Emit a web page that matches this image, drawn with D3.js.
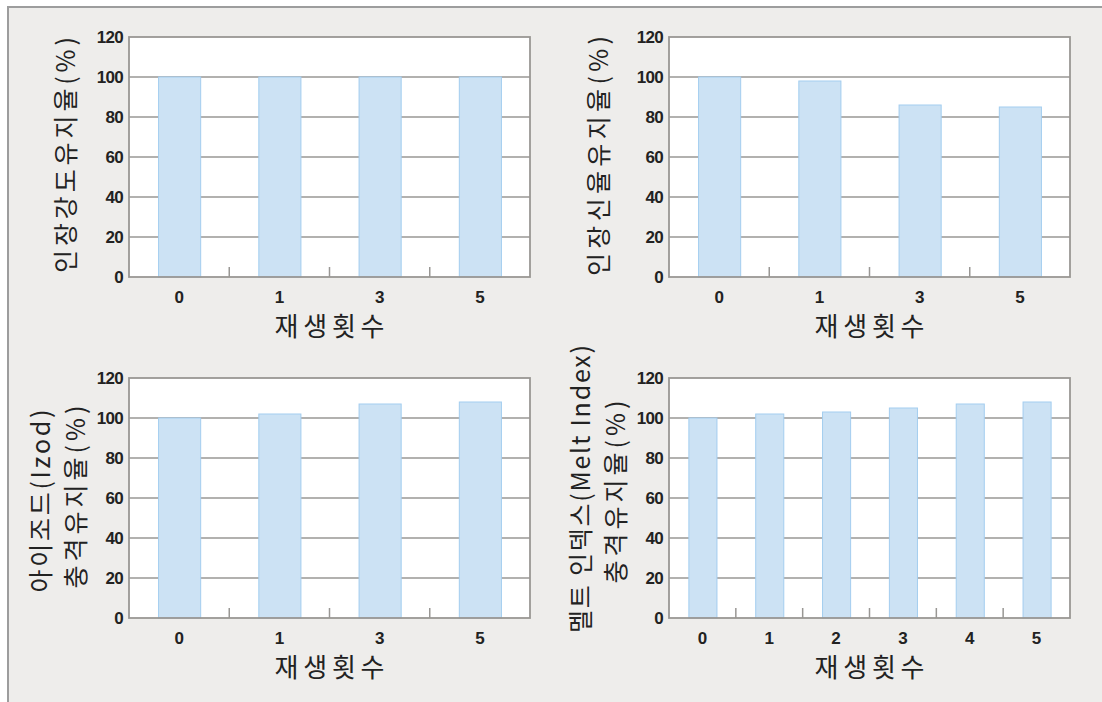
<!DOCTYPE html>
<html><head><meta charset="utf-8">
<script src="https://cdn.jsdelivr.net/npm/d3@7"></script>
<style>
html,body{margin:0;padding:0;background:#fff;}
svg{display:block;}
</style></head>
<body>
<script>
// ---- data ----
const cats4 = ["0", "1", "3", "5"];
const cats6 = ["0", "1", "2", "3", "4", "5"];
const tensileStrength = [100, 100, 100, 100];
const elongation = [100, 98, 86, 85];
const izodImpact = [100, 102, 107, 108];
const meltIndex = [100, 102, 103, 105, 107, 108];
const yTicks = [0, 20, 40, 60, 80, 100, 120];
const xTitle = "재생횟수";
const title1 = ["인장강도유지율(%)"];
const title2 = ["인장신율유지율(%)"];
const title3 = ["아이조드(Izod)", "충격유지율(%)"];
const title4 = ["멜트 인덱스(Melt Index)", "충격유지율(%)"];

// ---- layout ----
const W = 1102, H = 702;
const svg = d3.select("body").append("svg").attr("width", W).attr("height", H);
svg.append("rect").attr("x", 8).attr("y", 7).attr("width", W + 20).attr("height", H + 20)
  .attr("fill", "#eeedeb").attr("stroke", "#9d9d9d").attr("stroke-width", 2);

const panels = [
  {cats: cats4, vals: tensileStrength, x0: 129, y0: 37, title: title1,
   tpos: [{cx: 64, cy: 155, len: 236}]},
  {cats: cats4, vals: elongation, x0: 669, y0: 37, title: title2,
   tpos: [{cx: 597, cy: 156, len: 240}]},
  {cats: cats4, vals: izodImpact, x0: 129, y0: 378, title: title3,
   tpos: [{cx: 39, cy: 501, len: 183}, {cx: 74, cy: 497, len: 183}]},
  {cats: cats6, vals: meltIndex, x0: 669, y0: 378, title: title4,
   tpos: [{cx: 579, cy: 489, len: 288}, {cx: 614, cy: 492, len: 183}]}
];
const pw = 401, ph = 240;
const grid = "#999794", txt = "#222";

panels.forEach(p => {
  const g = svg.append("g").attr("transform", `translate(${p.x0},${p.y0})`);
  const x = d3.scaleBand().domain(p.cats).range([0, pw]).paddingInner(0).paddingOuter(0);
  const y = d3.scaleLinear().domain([0, 120]).range([ph, 0]);

  g.append("rect").attr("width", pw).attr("height", ph).attr("fill", "#fff");

  // gridlines
  g.selectAll(".grid").data(yTicks.filter(t => t > 0 && t < 120)).enter().append("line")
    .attr("x1", 0).attr("x2", pw).attr("y1", d => y(d)).attr("y2", d => y(d))
    .attr("stroke", grid).attr("stroke-width", 1.5);

  // bars
  const bw = x.bandwidth() * 0.42;
  g.selectAll(".bar").data(p.vals).enter().append("rect")
    .attr("x", (d, i) => x(p.cats[i]) + x.bandwidth() / 2 - bw / 2 + 0.5)
    .attr("y", d => y(d))
    .attr("width", bw)
    .attr("height", d => ph - y(d))
    .attr("fill", "#cce2f4").attr("stroke", "#a3cdef").attr("stroke-width", 1);

  // frame
  g.append("rect").attr("width", pw).attr("height", ph).attr("fill", "none")
    .attr("stroke", grid).attr("stroke-width", 1.8);

  // x ticks between categories
  g.selectAll(".xt").data(p.cats.slice(1)).enter().append("line")
    .attr("x1", d => x(d)).attr("x2", d => x(d)).attr("y1", ph).attr("y2", ph - 10)
    .attr("stroke", grid).attr("stroke-width", 1.5);

  // x axis labels
  const xa = g.append("g").attr("transform", `translate(0,${ph})`)
    .call(d3.axisBottom(x).tickSize(0).tickPadding(14));
  xa.select(".domain").remove();
  xa.selectAll("text").attr("font-family", "Liberation Sans, Arial, sans-serif")
    .attr("font-size", 17).attr("font-weight", "bold").attr("fill", txt)
    .attr("dy", "0.68em");

  // y axis labels
  const ya = g.append("g").call(d3.axisLeft(y).tickValues(yTicks).tickSize(0).tickPadding(6));
  ya.select(".domain").remove();
  ya.selectAll("text").attr("font-family", "Liberation Sans, Arial, sans-serif")
    .attr("font-size", 17).attr("font-weight", "bold").attr("fill", txt)
    .attr("letter-spacing", "-0.7px");

  // x title
  g.append("text").attr("x", pw / 2).attr("y", ph + 47.5)
    .attr("text-anchor", "middle").attr("dominant-baseline", "central")
    .attr("font-family", "Noto Sans CJK KR, sans-serif").attr("font-size", 26)
    .attr("fill", txt).attr("textLength", 110).attr("lengthAdjust", "spacing")
    .text(xTitle);

  // y title lines
  p.title.forEach((t, i) => {
    const tp = p.tpos[i];
    svg.append("text").attr("transform", `translate(${tp.cx},${tp.cy}) rotate(-90)`)
      .attr("text-anchor", "middle").attr("dominant-baseline", "central")
      .attr("font-family", "Noto Sans CJK KR, sans-serif").attr("font-size", 25)
      .attr("fill", txt).attr("textLength", tp.len).attr("lengthAdjust", "spacing")
      .text(t);
  });
});
</script>
</body></html>
